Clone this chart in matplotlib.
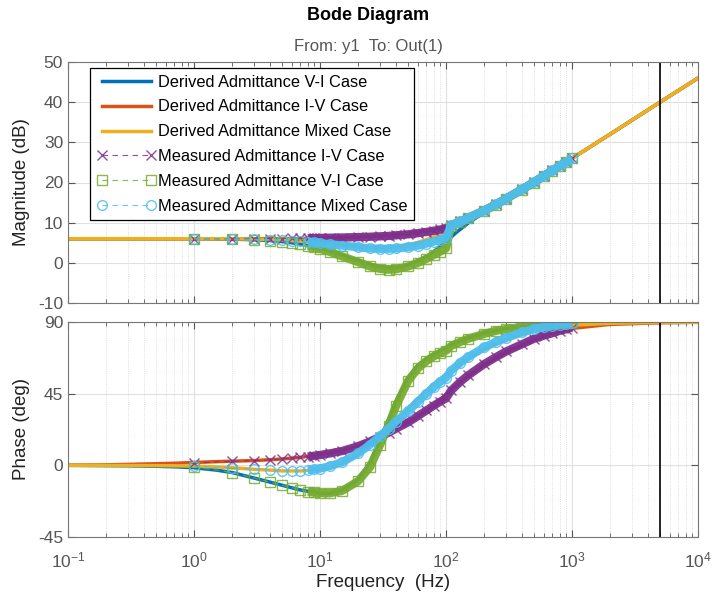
import numpy as np
import matplotlib
matplotlib.use("Agg")
import matplotlib.pyplot as plt
from matplotlib.ticker import LogLocator, FixedLocator, NullFormatter

plt.rcParams['font.family'] = ['Liberation Sans', 'DejaVu Sans']
plt.rcParams['axes.unicode_minus'] = False

# derived (model) curves
freq_derived = [0.1, 0.2, 0.3, 0.5, 0.7, 1, 1.5, 2, 3, 4, 5, 7, 10, 12, 15, 20, 25, 30,
                40, 50, 60, 70, 80, 100, 120, 150, 200, 300, 500, 700, 1000, 2000, 5000, 10000]
mag_vi = [6.0, 6.0, 6.0, 6.0, 6.0, 6.0, 5.95, 5.9, 5.75, 5.55, 5.3, 4.7, 3.6, 2.9, 1.9, 0.6, -0.4, -1.0,
          -1.2, -0.5, 0.5, 1.6, 2.8, 5.2, 7.5, 9.9, 12.5, 15.9, 20.1, 23.0, 26.0, 32.0, 40.0, 46.0]
mag_iv = [6.0, 6.0, 6.0, 6.0, 6.0, 6.0, 6.0, 6.0, 6.0, 6.0, 6.0, 6.05, 6.15, 6.2, 6.3, 6.4, 6.55, 6.7,
          7.0, 7.3, 7.6, 7.9, 8.2, 9.0, 9.9, 11.2, 13.0, 16.0, 20.1, 23.0, 26.0, 32.0, 40.0, 46.0]
mag_mix = [6.0, 6.0, 6.0, 6.0, 6.0, 6.0, 6.0, 6.0, 5.9, 5.8, 5.7, 5.4, 5.0, 4.7, 4.4, 4.0, 3.8, 3.8,
           4.0, 4.5, 5.1, 5.8, 6.5, 8.0, 9.3, 10.9, 12.8, 15.9, 20.1, 23.0, 26.0, 32.0, 40.0, 46.0]
ph_vi = [0.0, -0.2, -0.3, -0.6, -0.9, -1.5, -3.0, -4.5, -8.0, -10.5, -12.5, -15.5, -17.5, -17.5, -15.5, -9.0, 2.0, 16.0,
         40.0, 55.0, 63.0, 67.0, 70.0, 74.0, 77.0, 80.0, 83.0, 86.0, 88.0, 88.8, 89.3, 89.7, 89.9, 90.0]
ph_iv = [0.0, 0.3, 0.6, 1.0, 1.3, 1.8, 2.3, 2.6, 3.0, 3.5, 4.0, 5.0, 6.8, 7.8, 9.3, 12.3, 15.3, 18.3,
         23.3, 27.3, 31.0, 34.5, 37.5, 44.5, 50.0, 56.0, 63.0, 71.0, 79.0, 83.0, 86.0, 88.5, 89.5, 89.8]
ph_mix = [0.0, -0.05, -0.1, -0.2, -0.3, -0.5, -1.0, -1.5, -2.5, -3.0, -3.5, -3.5, -2.5, -1.0, 1.0, 7.0, 13.0, 19.0,
          28.0, 36.0, 42.0, 47.0, 51.0, 57.0, 62.0, 67.0, 73.0, 79.0, 84.5, 86.5, 88.0, 89.2, 89.7, 89.9]

# measured points
freq_meas = [1, 2, 3, 4, 5, 6, 7, 8, 9, 10, 12, 15, 20, 25, 30, 35, 40, 50, 60, 70, 80, 90, 100,
             110, 130, 150, 200, 250, 300, 400, 500, 600, 700, 800, 900, 1000]
mmag_iv = [6.0, 6.0, 6.0, 6.05, 6.05, 6.1, 6.1, 6.15, 6.2, 6.2, 6.25, 6.3, 6.4, 6.5, 6.6, 6.7, 6.85, 7.1, 7.4, 7.7, 8.0, 8.3, 8.6,
           9.4, 10.3, 11.2, 13.0, 14.6, 16.0, 18.3, 20.1, 21.7, 23.0, 24.2, 25.1, 26.0]
mmag_vi = [6.0, 5.9, 5.7, 5.5, 5.2, 4.9, 4.6, 4.2, 3.9, 3.5, 2.7, 1.6, 0.2, -0.9, -1.5, -1.7, -1.6, -0.9, 0.0, 1.0, 2.0, 2.8, 3.6,
           9.2, 10.2, 11.1, 12.9, 14.5, 15.9, 18.2, 20.0, 21.6, 22.9, 24.1, 25.1, 26.0]
mmag_mix = [6.0, 5.95, 5.85, 5.75, 5.6, 5.5, 5.35, 5.2, 5.1, 4.9, 4.6, 4.3, 3.9, 3.6, 3.5, 3.5, 3.6, 3.9, 4.3, 4.8, 5.3, 5.8, 6.3,
            9.3, 10.3, 11.2, 13.0, 14.6, 16.0, 18.3, 20.1, 21.7, 23.0, 24.2, 25.1, 26.0]
mph_iv = [1.5, 2.5, 3.0, 3.5, 4.0, 4.5, 5.0, 5.5, 6.0, 6.5, 7.5, 9.0, 12.0, 15.0, 18.0, 20.5, 23.0, 27.0, 31.0, 34.5, 37.5, 40.0, 42.0,
          47.0, 52.5, 56.5, 63.5, 68.0, 71.5, 76.0, 79.5, 81.5, 83.0, 84.5, 85.5, 86.5]
mph_vi = [-1.0, -4.5, -8.0, -10.5, -12.5, -14.0, -15.5, -16.5, -17.0, -17.5, -17.5, -16.0, -10.0, -1.0, 13.0, 25.0, 37.0, 53.0, 61.0, 65.5, 68.5, 70.5, 72.0,
          75.0, 77.5, 79.5, 82.5, 84.5, 85.5, 87.0, 88.0, 88.5, 89.0, 89.3, 89.5, 89.7]
mph_mix = [-0.5, -1.5, -2.5, -3.0, -3.5, -3.5, -3.5, -3.0, -2.5, -2.0, -0.5, 2.0, 7.5, 13.0, 18.5, 23.0, 27.5, 34.0, 40.0, 45.0, 49.0, 52.5, 55.0,
           59.5, 64.5, 68.0, 74.0, 77.5, 80.0, 83.5, 85.5, 87.0, 87.8, 88.4, 88.8, 89.2]

nyquist = 5000

c_blue, c_red, c_yel = '#0072BD', '#D95319', '#EDB120'
c_pur, c_grn, c_cyan = '#7E2F8E', '#77AC30', '#4DBEEE'
tick_col = '#555555'

fig = plt.figure(figsize=(7.15, 5.98), dpi=100)
ax1 = fig.add_axes([68/715, 1-303/598, 630/715, 241/598])
ax2 = fig.add_axes([68/715, 1-537/598, 630/715, 215/598])

fm = np.array(freq_meas)
band = fm >= 8


def draw(ax, d_vi, d_iv, d_mix, m_iv, m_vi, m_mix, lab):
    ax.plot(freq_derived, d_vi, color=c_blue, lw=2.5, label='Derived Admittance V-I Case' if lab else None)
    ax.plot(freq_derived, d_iv, color=c_red, lw=2.5, label='Derived Admittance I-V Case' if lab else None)
    ax.plot(freq_derived, d_mix, color=c_yel, lw=2.5, label='Derived Admittance Mixed Case' if lab else None)
    for vals, col, mk, name in [(m_iv, c_pur, 'x', 'Measured Admittance I-V Case'),
                                (m_vi, c_grn, 's', 'Measured Admittance V-I Case'),
                                (m_mix, c_cyan, 'o', 'Measured Admittance Mixed Case')]:
        v = np.array(vals)
        ax.plot(fm[band], v[band], color=col, lw=6, solid_capstyle='butt', alpha=0.95)
        ax.plot(fm, v, color=col, lw=0.8, ls=(0, (5, 4)), marker=mk, ms=7, mfc='none', mew=1.0,
                alpha=0.85, label=name if lab else None)
    ax.axvline(nyquist, color='black', lw=1.2)


draw(ax1, mag_vi, mag_iv, mag_mix, mmag_iv, mmag_vi, mmag_mix, True)
draw(ax2, ph_vi, ph_iv, ph_mix, mph_iv, mph_vi, mph_mix, False)

for ax in (ax1, ax2):
    ax.set_xscale('log')
    ax.set_xlim(0.1, 1e4)
    ax.xaxis.set_major_locator(LogLocator(base=10, numticks=10))
    ax.xaxis.set_minor_locator(LogLocator(base=10, subs=np.arange(2, 10), numticks=20))
    ax.xaxis.set_minor_formatter(NullFormatter())
    ax.grid(True, which='major', color='#e0e0e0', lw=0.8)
    ax.grid(True, which='minor', axis='x', color='#d4d4d4', lw=0.6, ls=':')
    ax.set_axisbelow(True)
    ax.tick_params(which='both', direction='in', top=True, right=True, colors=tick_col,
                   labelsize=12.5, labelcolor=tick_col)
    ax.tick_params(which='major', length=5)
    ax.tick_params(which='minor', length=3)
    ax.tick_params(axis='x', pad=10)
    for s in ax.spines.values():
        s.set_color('#777777')
        s.set_linewidth(0.8)

ax1.set_ylim(-10, 50)
ax1.set_yticks([-10, 0, 10, 20, 30, 40, 50])
ax1.tick_params(axis='x', labelbottom=False)
ax1.set_ylabel('Magnitude (dB)', fontsize=13.5, color='#222222', labelpad=6)

ax2.set_ylim(-45, 90)
ax2.yaxis.set_major_locator(FixedLocator([-45, 0, 45, 90]))
ax2.set_ylabel('Phase (deg)', fontsize=13.5, color='#222222', labelpad=6)
ax2.set_xlabel('Frequency  (Hz)', fontsize=13.5, color='#222222', labelpad=2)

leg = ax1.legend(loc='upper left', bbox_to_anchor=(0.035, 0.975), fontsize=11.8,
                 handlelength=3.6, handletextpad=0.15, labelspacing=0.6, numpoints=2,
                 fancybox=False, framealpha=1, edgecolor='black', borderpad=0.4,
                 borderaxespad=0)
leg.get_frame().set_linewidth(0.9)

fig.text(0.515, 1-16/598, 'Bode Diagram', ha='center', va='center', fontsize=13,
         fontweight='bold', color='black')
fig.text(0.515, 1-46/598, 'From: y1  To: Out(1)', ha='center', va='center', fontsize=12,
         color='#555555')

fig.savefig('out.png', dpi=100)
